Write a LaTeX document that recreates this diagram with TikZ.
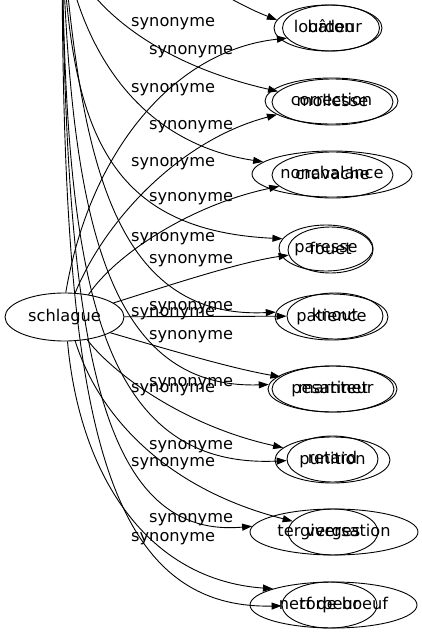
\documentclass[tikz,border=0pt]{standalone}
\usepackage{fontspec}
\setmainfont{DejaVu Sans}
\usetikzlibrary{arrows.meta,shapes.geometric}

\newcommand{\labAx}{149}
\newcommand{\labBx}{131}
\newcommand{\wordsize}{\fontsize{16.2}{19}\selectfont}

\tikzset{
  wordnode/.style={draw, ellipse, inner sep=0pt, line width=0.9pt, minimum height=46pt,
                   text height=12pt, text depth=4pt, font=\wordsize},
  synlabel/.style={anchor=west, inner sep=0pt, text height=12pt, text depth=4pt, font=\wordsize},
  synarrow/.style={line width=0.9pt, -{Triangle[length=10pt,width=7pt]}},
}

\begin{document}
\begin{tikzpicture}[x=1pt, y=-1pt]
  \useasboundingbox (0,0) rectangle (422,635);
  \clip (0,0) rectangle (422,635);

  % Source nodes:
  \node[wordnode, minimum width=119pt, minimum height=48pt] (schlague) at (64.5,317) {schlague};
  \coordinate (lenteur) at (62,-70);

  % Targets of schlague:
  \node[wordnode, minimum width=97pt]  (baton)       at (331,28)    {bâton};
  \node[wordnode, minimum width=133pt] (correction)  at (331.5,101) {correction};
  \node[wordnode, minimum width=121pt] (cravache)    at (332.5,175) {cravache};
  \node[wordnode, minimum width=85pt]  (fouet)       at (330.5,250) {fouet};
  \node[wordnode, minimum width=96pt]  (knout)       at (335,316)   {knout};
  \node[wordnode, minimum width=122pt] (martinet)    at (333,389)   {martinet};
  \node[wordnode, minimum width=115pt] (punition)    at (332.5,460) {punition};
  \node[wordnode, minimum width=90pt]  (verges)      at (333,532)   {verges};
  \node[wordnode, minimum width=167pt] (nerfdeboeuf) at (333.5,605) {nerf de boeuf};

  % Targets of the second source:
  \node[wordnode, minimum width=108pt] (lourdeur)       at (328,28)    {lourdeur};
  \node[wordnode, minimum width=121pt] (mollesse)       at (332.5,102) {mollesse};
  \node[wordnode, minimum width=160pt] (nonchalance)    at (332,174)   {nonchalance};
  \node[wordnode, minimum width=94pt]  (paresse)        at (326,248)   {paresse};
  \node[wordnode, minimum width=113pt] (patience)       at (331.5,317) {patience};
  \node[wordnode, minimum width=129pt] (pesanteur)      at (332.5,389) {pesanteur};
  \node[wordnode, minimum width=91pt]  (retard)         at (332.5,459) {retard};
  \node[wordnode, minimum width=168pt] (tergiversation) at (334,532)   {tergiversation};
  \node[wordnode, minimum width=95pt]  (torpeur)        at (329.5,605) {torpeur};

  % Edges from schlague:
  \draw[synarrow] (schlague.87)  .. controls (90,150)  and (175,50)  .. (baton.193);
  \draw[synarrow] (schlague.66)  .. controls (105,220) and (180,140) .. (correction.194);
  \draw[synarrow] (schlague.43)  .. controls (115,255) and (190,205) .. (cravache.192);
  \draw[synarrow] (schlague.16)  .. controls (170,285) and (240,262) .. (fouet.187);
  \draw[synarrow] (schlague)     -- (knout);
  \draw[synarrow] (schlague.341) .. controls (170,350) and (230,368) .. (martinet.167);
  \draw[synarrow] (schlague.315) .. controls (110,370) and (180,425) .. (punition.166);
  \draw[synarrow] (schlague.294) .. controls (100,420) and (170,490) .. (verges.165);
  \draw[synarrow] (schlague.277) .. controls (80,480)  and (150,580) .. (nerfdeboeuf.165);

  % Edges from above:
  \draw[synarrow] (lenteur) .. controls (130,-75) and (205,-8)  .. (lourdeur.171);
  \draw[synarrow] (lenteur) .. controls (70,-10)  and (140,60)  .. (mollesse.169);
  \draw[synarrow] (lenteur) .. controls (72,20)   and (120,140) .. (nonchalance.170);
  \draw[synarrow] (lenteur) .. controls (70,120)  and (100,230) .. (paresse.168);
  \draw[synarrow] (lenteur) .. controls (80,150)  and (110,320) .. (patience.175);
  \draw[synarrow] (lenteur) .. controls (70,200)  and (100,390) .. (pesanteur.176);
  \draw[synarrow] (lenteur) .. controls (65,260)  and (90,470)  .. (retard.182);
  \draw[synarrow] (lenteur) .. controls (65,330)  and (95,540)  .. (tergiversation.176);
  \draw[synarrow] (lenteur) .. controls (62,380)  and (90,610)  .. (torpeur.181);

  % Labels:
  \foreach \ly in {50,125,197,259,306,335,382,445,518}
    \node[synlabel] at (\labAx,\ly) {synonyme};
  \foreach \ly in {22,88,162,237,312,388,462,537}
    \node[synlabel] at (\labBx,\ly) {synonyme};

\end{tikzpicture}
\end{document}
